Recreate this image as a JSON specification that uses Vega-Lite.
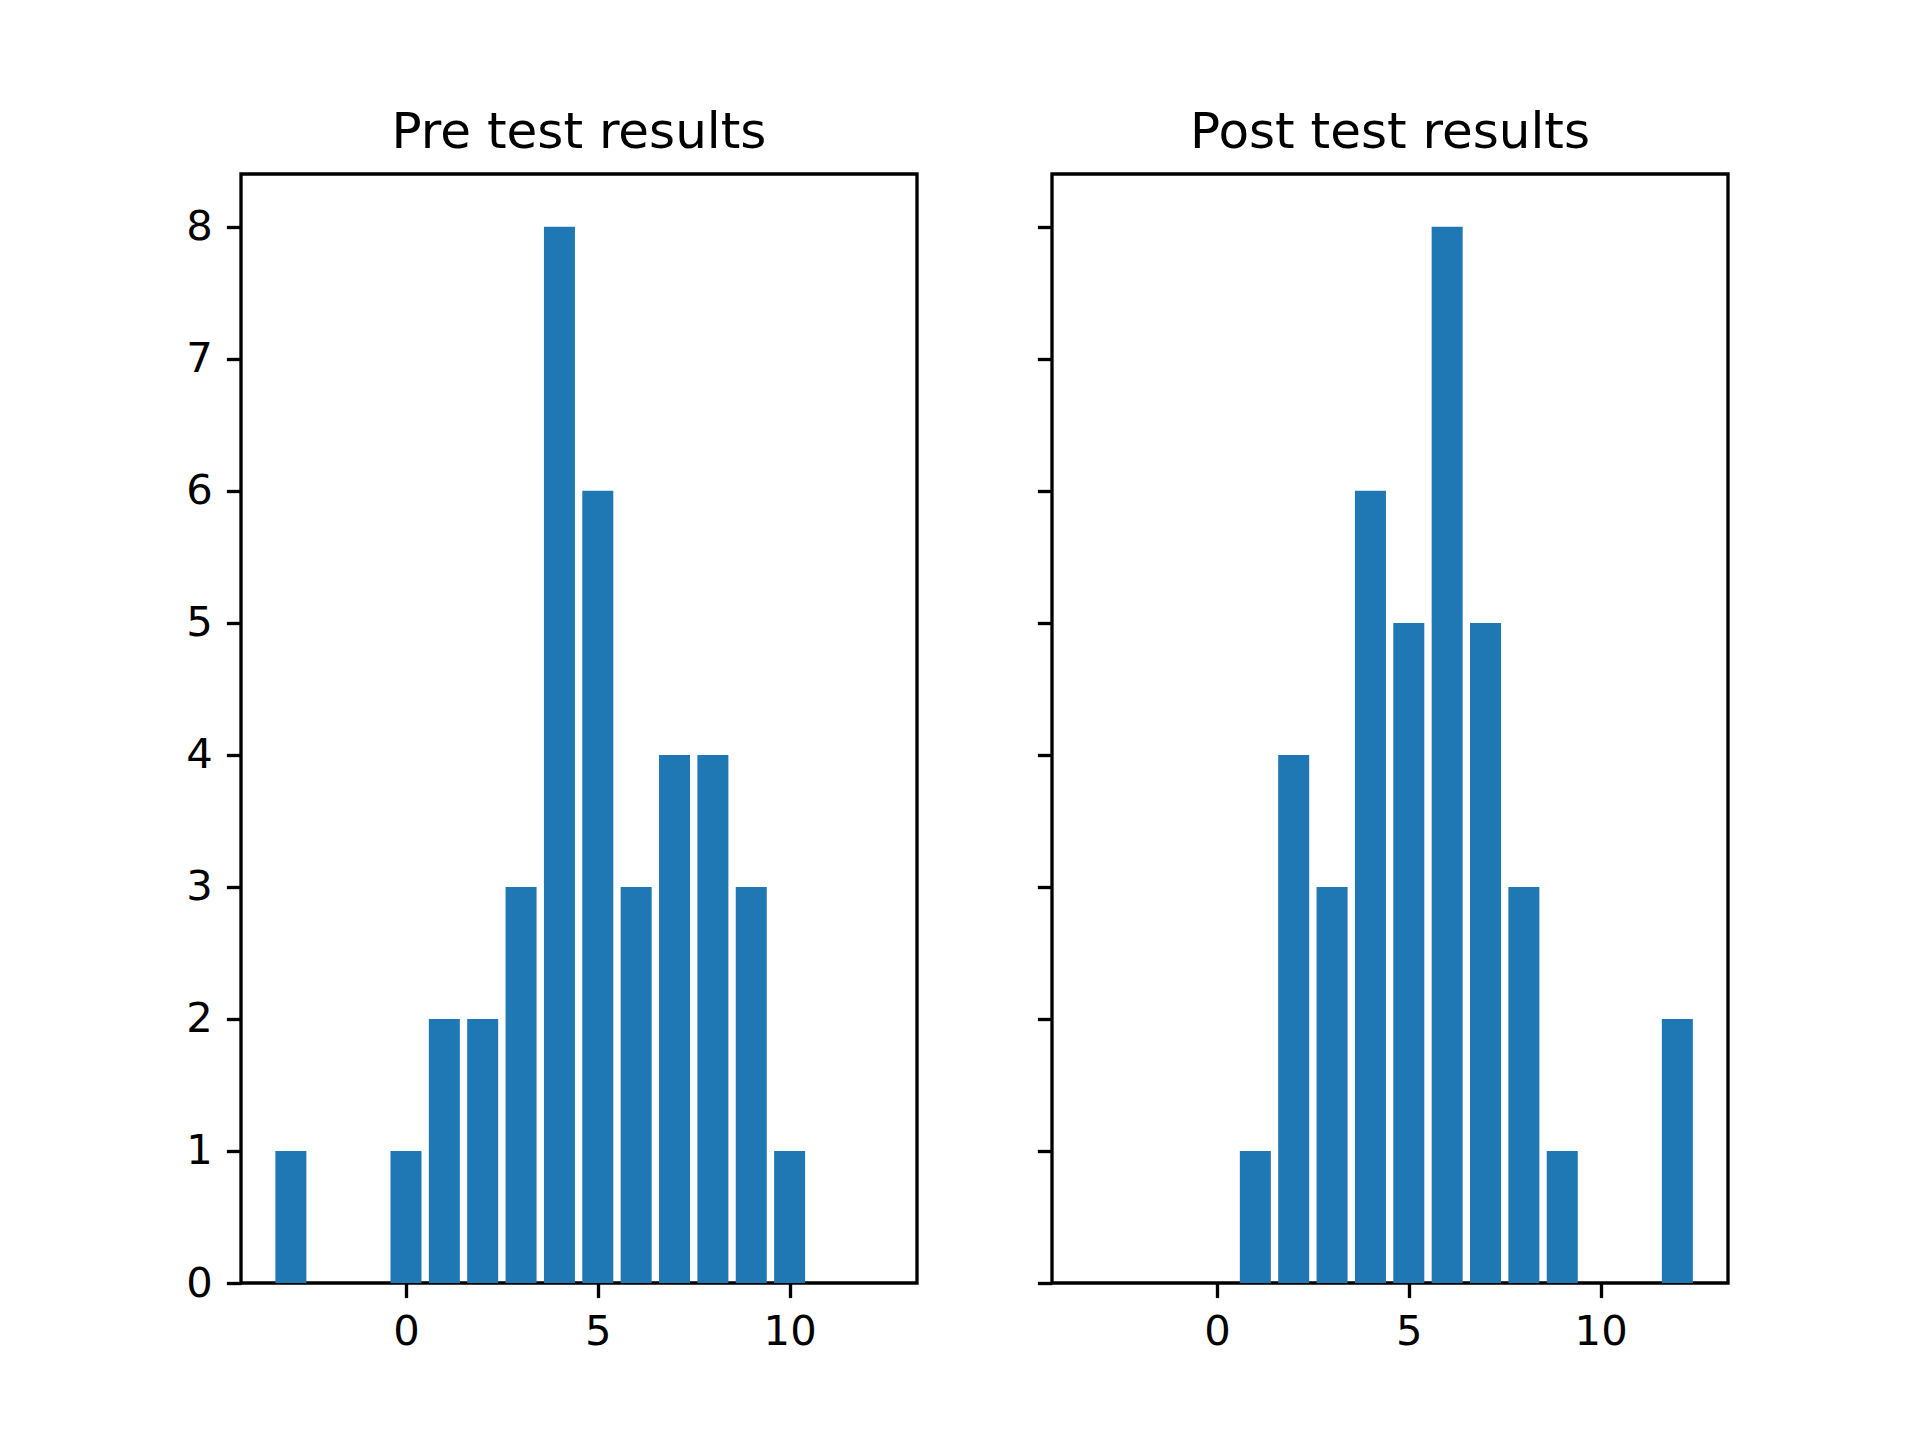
{
  "$schema": "https://vega.github.io/schema/vega-lite/v6.json",
  "description": "Pre and post test results, side by side bar charts",
  "autosize": {"type": "pad"},
  "padding": {"left": 184, "top": 106, "right": 150, "bottom": 80},
  "background": "white",
  "spacing": 135,
  "bounds": "flush",
  "datasets": {
    "pre": [
      {"score": -3, "count": 1},
      {"score": 0, "count": 1},
      {"score": 1, "count": 2},
      {"score": 2, "count": 2},
      {"score": 3, "count": 3},
      {"score": 4, "count": 8},
      {"score": 5, "count": 6},
      {"score": 6, "count": 3},
      {"score": 7, "count": 4},
      {"score": 8, "count": 4},
      {"score": 9, "count": 3},
      {"score": 10, "count": 1}
    ],
    "post": [
      {"score": 1, "count": 1},
      {"score": 2, "count": 4},
      {"score": 3, "count": 3},
      {"score": 4, "count": 6},
      {"score": 5, "count": 5},
      {"score": 6, "count": 8},
      {"score": 7, "count": 5},
      {"score": 8, "count": 3},
      {"score": 9, "count": 1},
      {"score": 12, "count": 2}
    ]
  },
  "config": {
    "font": "DejaVu Sans",
    "view": {"stroke": "black", "strokeWidth": 3.33},
    "axis": {
      "domain": false,
      "grid": false,
      "ticks": true,
      "tickColor": "black",
      "tickWidth": 3.33,
      "tickSize": 14.6,
      "labelFont": "DejaVu Sans",
      "labelFontSize": 41.7,
      "labelColor": "black",
      "labelPadding": 14,
      "labelFlush": false,
      "labelOverlap": false,
      "title": null
    },
    "title": {
      "font": "DejaVu Sans",
      "fontSize": 50,
      "fontWeight": "normal",
      "color": "black",
      "anchor": "middle",
      "baseline": "alphabetic",
      "offset": 16
    }
  },
  "hconcat": [
    {
      "title": "Pre test results",
      "width": 676,
      "height": 1109,
      "data": {"name": "pre"},
      "mark": {"type": "bar", "color": "#1f77b4", "size": 31},
      "encoding": {
        "x": {
          "field": "score",
          "type": "quantitative",
          "scale": {"domain": [-4.17, 13.19], "nice": false, "zero": false},
          "axis": {"values": [0, 5, 10]}
        },
        "y": {
          "field": "count",
          "type": "quantitative",
          "scale": {"domain": [0, 8.4], "nice": false},
          "axis": {"values": [0, 1, 2, 3, 4, 5, 6, 7, 8]}
        }
      }
    },
    {
      "title": "Post test results",
      "width": 676,
      "height": 1109,
      "data": {"name": "post"},
      "mark": {"type": "bar", "color": "#1f77b4", "size": 31},
      "encoding": {
        "x": {
          "field": "score",
          "type": "quantitative",
          "scale": {"domain": [-4.17, 13.19], "nice": false, "zero": false},
          "axis": {"values": [0, 5, 10]}
        },
        "y": {
          "field": "count",
          "type": "quantitative",
          "scale": {"domain": [0, 8.4], "nice": false},
          "axis": {"values": [0, 1, 2, 3, 4, 5, 6, 7, 8], "labels": false}
        }
      }
    }
  ]
}
